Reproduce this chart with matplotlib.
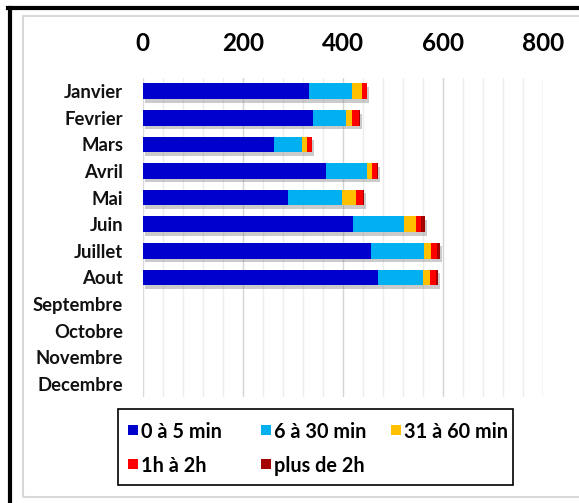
import matplotlib
matplotlib.use("Agg")
import matplotlib.pyplot as plt
import matplotlib.patheffects as pe
from matplotlib.lines import Line2D
from matplotlib.patches import Rectangle
import numpy as np

months = ["Janvier", "Fevrier", "Mars", "Avril", "Mai", "Juin", "Juillet",
          "Aout", "Septembre", "Octobre", "Novembre", "Decembre"]

series_names = ["0 à 5 min", "6 à 30 min", "31 à 60 min", "1h à 2h", "plus de 2h"]
colors = ["#0000CC", "#00B0F0", "#FFC000", "#FF0000", "#A50000"]

# durations per month (Sept-Dec not yet recorded)
min_0_5 = [333, 340, 262, 367, 291, 420, 457, 471, 0, 0, 0, 0]
min_6_30 = [85, 66, 57, 82, 107, 103, 105, 90, 0, 0, 0, 0]
min_31_60 = [20, 12, 10, 10, 29, 23, 15, 14, 0, 0, 0, 0]
h1_2 = [10, 15, 9, 9, 13, 10, 12, 12, 0, 0, 0, 0]
over_2h = [1, 2, 0, 3, 2, 9, 6, 4, 0, 0, 0, 0]

x_ticks = [0, 200, 400, 600, 800]

W, H = 579, 503
fig = plt.figure(figsize=(W / 100, H / 100), dpi=100)
font = "Lato"


def fx(px):
    return px / W


def fy(py):
    return 1 - py / H


ax = fig.add_axes([fx(142.7), fy(397), 400 / W, 319 / H])

y = np.arange(len(months))
left = np.zeros(len(months))
for vals, name, col in zip([min_0_5, min_6_30, min_31_60, h1_2, over_2h],
                           series_names, colors):
    vals = np.array(vals, dtype=float)
    bars = ax.barh(y, vals, left=left, height=0.59, color=col, label=name,
                   zorder=3)
    for b in bars:
        b.set_path_effects([pe.SimplePatchShadow(offset=(1.5, -2.5),
                                                 shadow_rgbFace="#7f7f7f",
                                                 alpha=0.4),
                            pe.Normal()])
    left += vals

ax.set_xlim(0, 800)
ax.set_ylim(len(months) - 0.5, -0.5)

# gridlines: light every 40, slightly darker every 200
for v in np.arange(40, 801, 40):
    c = "#d4d4d4" if v % 200 == 0 else "#ececec"
    ax.axvline(v, color=c, lw=1.0, zorder=1)
ax.axvline(0, color="#d9d9d9", lw=1.0, zorder=1)

ax.xaxis.tick_top()
ax.set_xticks(x_ticks)
ax.set_xticklabels([str(t) for t in x_ticks], fontsize=17.5, fontweight="bold",
                   family=font)
ax.tick_params(axis="x", length=0, pad=16.5)
ax.set_yticks(y)
ax.set_yticklabels(months, fontsize=13.3, fontweight="bold", family=font,
                   color="#111111")
ax.tick_params(axis="y", length=0, pad=14)
for s in ax.spines.values():
    s.set_visible(False)

# legend box with three equal-width columns, filled row by row
fig.add_artist(Rectangle((fx(118), fy(485)), (513 - 118) / W, (485 - 409) / H,
                         transform=fig.transFigure, fill=False,
                         edgecolor="black", lw=1.2))
col_x = [128, 261, 391]
row_y = [430, 464]
for i, (name, col) in enumerate(zip(series_names, colors)):
    cx = col_x[i % 3]
    cy = row_y[i // 3]
    fig.add_artist(Rectangle((fx(cx), fy(cy + 5)), 10 / W, 10 / H,
                             transform=fig.transFigure, facecolor=col,
                             edgecolor="none"))
    fig.text(fx(cx + 13), fy(cy), name, ha="left", va="center_baseline",
             fontsize=14.3, fontweight="bold", family=font)

# chart frames
fig.add_artist(Rectangle((fx(23), fy(497)), 600 / W, (497 - 16) / H,
                         transform=fig.transFigure, fill=False,
                         edgecolor="#d9d9d9", lw=1.5))
fig.add_artist(Line2D([fx(9.5), fx(9.5)], [fy(7.5), 0],
                      transform=fig.transFigure, color="black", lw=3))
fig.add_artist(Line2D([fx(8), 1], [fy(7.5), fy(7.5)],
                      transform=fig.transFigure, color="black", lw=3))

fig.savefig("out.png", dpi=100)
